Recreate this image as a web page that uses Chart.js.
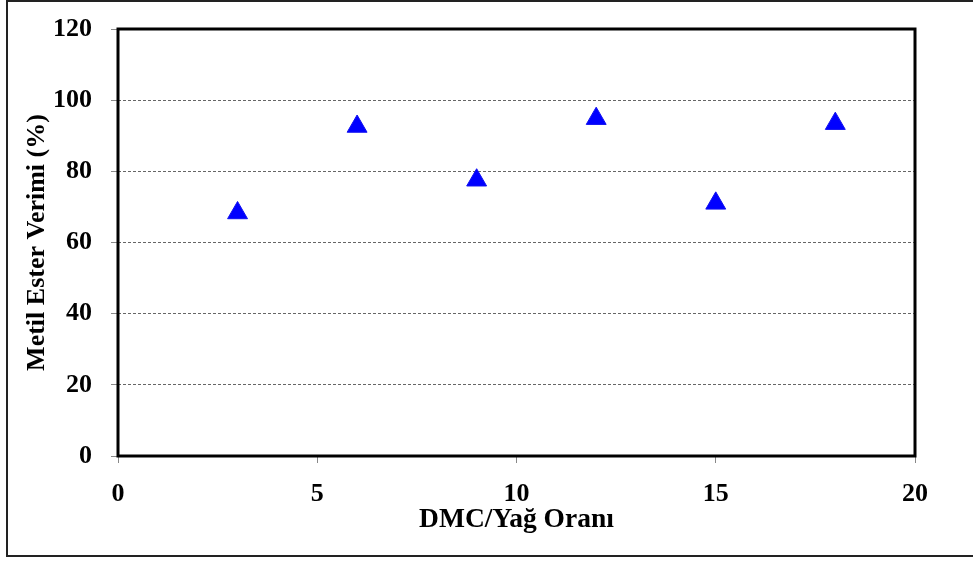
<!DOCTYPE html>
<html>
<head>
<meta charset="utf-8">
<script src="https://cdn.jsdelivr.net/npm/chart.js@4"></script>
<style>
  body { margin: 0; background: #fff; }
  canvas { display: block; }
</style>
</head>
<body>
<canvas id="yieldChart" width="973" height="561"></canvas>
<script>
// DMC / oil ratio vs methyl ester yield
const ratios = [3, 6, 9, 12, 15, 18];
const yields = [68.3, 92.6, 77.5, 94.8, 71.0, 93.4];
const xTicks = [0, 5, 10, 15, 20];
const yTicks = [0, 20, 40, 60, 80, 100, 120];

const serif = "'Liberation Serif', 'Times New Roman', serif";

// thick frame round the plot area + thin outer border of the picture
const framePlugin = {
  id: "frame",
  afterDraw(chart) {
    const { ctx, chartArea: a } = chart;
    ctx.save();
    ctx.strokeStyle = "#000";
    ctx.lineWidth = 3;
    ctx.strokeRect(a.left, a.top, a.right - a.left, a.bottom - a.top);
    ctx.lineWidth = 2;
    ctx.strokeStyle = "#222";
    ctx.strokeRect(7, 1, 990, 555);
    ctx.restore();
  }
};

document.addEventListener("DOMContentLoaded", function () {
  const ctx = document.getElementById("yieldChart").getContext("2d");
  new Chart(ctx, {
    type: "scatter",
    data: {
      datasets: [{
        data: ratios.map((x, i) => ({ x: x, y: yields[i] })),
        pointStyle: "triangle",
        pointRadius: 11.5,
        pointHoverRadius: 11.5,
        backgroundColor: "#0000ff",
        borderColor: "#1010f0",
        borderWidth: 1
      }]
    },
    options: {
      responsive: false,
      animation: false,
      layout: { padding: { left: 0, top: 29, right: 58, bottom: 0 } },
      plugins: {
        legend: { display: false },
        tooltip: { enabled: false }
      },
      scales: {
        x: {
          type: "linear",
          min: 0,
          max: 20,
          afterBuildTicks: s => { s.ticks = xTicks.map(v => ({ value: v })); },
          afterFit: s => { s.height = 105; },
          grid: {
            drawOnChartArea: false,
            tickLength: 7,
            tickColor: "#888",
            tickBorderDash: []
          },
          border: { display: false },
          ticks: {
            padding: 16,
            color: "#000",
            font: { family: serif, size: 26, weight: "bold" }
          },
          title: {
            display: true,
            text: "DMC/Yağ Oranı",
            color: "#000",
            padding: { top: 0, bottom: 25 },
            font: { family: serif, size: 27.5, weight: "bold" }
          }
        },
        y: {
          type: "linear",
          min: 0,
          max: 120,
          afterBuildTicks: s => { s.ticks = yTicks.map(v => ({ value: v })); },
          afterFit: s => { s.width = 118; s.paddingTop = 0; },
          grid: {
            color: "#666",
            lineWidth: 1,
            tickLength: 7,
            tickColor: "#888",
            tickBorderDash: []
          },
          border: { display: false, dash: [3, 2] },
          ticks: {
            padding: 19,
            color: "#000",
            font: { family: serif, size: 26, weight: "bold" }
          },
          title: {
            display: true,
            text: "Metil Ester Verimi (%)",
            color: "#000",
            padding: { top: 22, bottom: 0 },
            font: { family: serif, size: 26, weight: "bold" }
          }
        }
      }
    },
    plugins: [framePlugin]
  });
});
</script>
</body>
</html>
